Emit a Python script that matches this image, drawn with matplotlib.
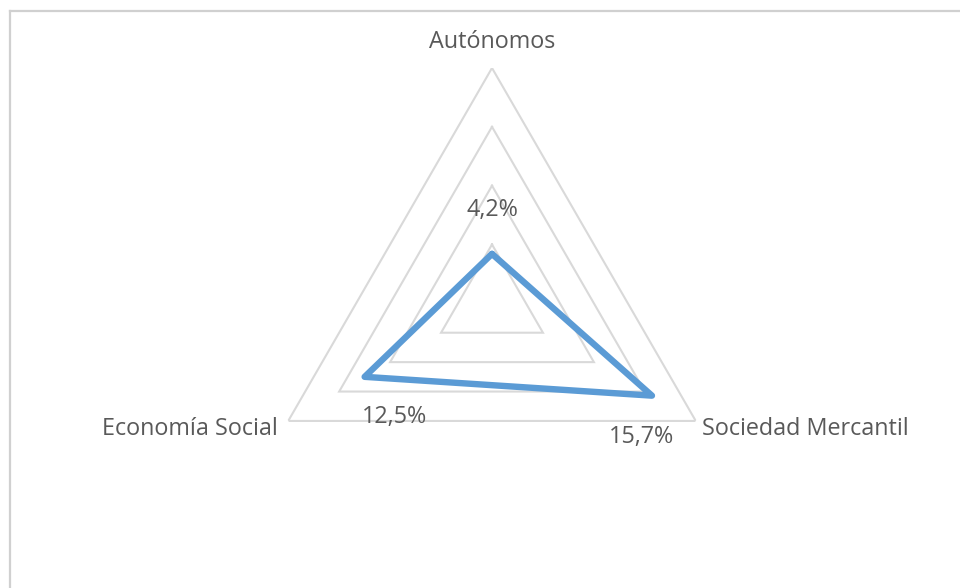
import numpy as np
import matplotlib
matplotlib.use("Agg")
import matplotlib.pyplot as plt
from matplotlib.lines import Line2D

# ---- data ----
categories = ["Autónomos", "Sociedad Mercantil", "Economía Social"]
values = [4.2, 15.7, 12.5]
value_labels = ["4,2%", "15,7%", "12,5%"]
ring_levels = [5, 10, 15, 20]
r_max = 20

plt.rcParams['font.family'] = ['Open Sans', 'DejaVu Sans']
TEXT = '#595959'
GRID = '#d9d9d9'
BLUE = '#5B9BD5'
FS = 16.8

W, H = 960, 588
fig = plt.figure(figsize=(W / 100, H / 100), dpi=100)
fig.patch.set_facecolor('white')

# frame (chart area border)
fig.add_artist(Line2D([9.5 / W, 9.5 / W], [0, (H - 11) / H], transform=fig.transFigure,
                      color='#d0d0d0', lw=1.6))
fig.add_artist(Line2D([9.5 / W, 1.0], [(H - 11) / H, (H - 11) / H], transform=fig.transFigure,
                      color='#d0d0d0', lw=1.6))

cx, cy, R = 492, 303.3, 235.3
ax = fig.add_axes([(cx - R) / W, (H - cy - R) / H, 2 * R / W, 2 * R / H], projection='polar')
ax.set_theta_offset(np.pi / 2)
ax.set_theta_direction(-1)
ax.set_ylim(0, r_max)
ax.grid(False)
ax.spines['polar'].set_visible(False)
ax.set_xticks([])
ax.set_yticks([])
ax.patch.set_alpha(0)

n = len(categories)
theta = np.arange(n) * 2 * np.pi / n
theta_c = np.append(theta, theta[0])

for lvl in ring_levels:
    ax.plot(theta_c, [lvl] * (n + 1), color=GRID, lw=1.5, solid_joinstyle='miter', zorder=1)

vals_c = np.append(values, values[0])
ax.plot(theta_c, vals_c, color=BLUE, lw=4.6, solid_joinstyle='round', solid_capstyle='round', zorder=3)

# category labels
cat_offsets = [(0, 14.4, 'center'), (4.3, -10, 'left'), (-7.2, -10, 'right')]
for t, name, (dx, dy, ha) in zip(theta, categories, cat_offsets):
    ax.annotate(name, xy=(t, r_max), xytext=(dx, dy), textcoords='offset points',
                ha=ha, va='baseline', fontsize=FS, color=TEXT, annotation_clip=False)

# value labels
val_offsets = [(0, 27.4), (-7.2, -33.8), (21.2, -33.1)]
for t, v, lab, (dx, dy) in zip(theta, values, value_labels, val_offsets):
    ax.annotate(lab, xy=(t, v), xytext=(dx, dy), textcoords='offset points',
                ha='center', va='baseline', fontsize=FS, color=TEXT, annotation_clip=False)

fig.savefig('out.png', dpi=100, facecolor='white')
